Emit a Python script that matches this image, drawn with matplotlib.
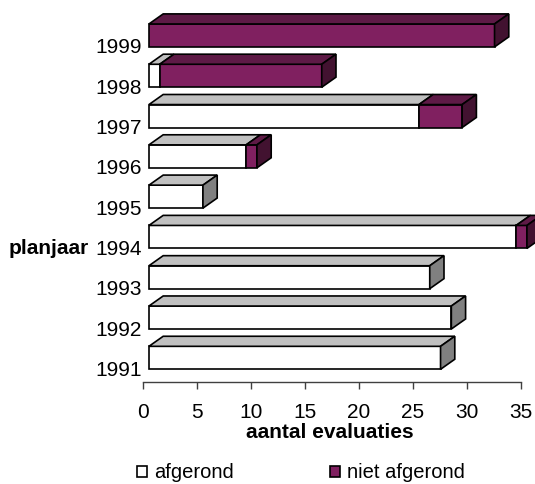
import matplotlib
matplotlib.use("Agg")
import matplotlib.pyplot as plt
from matplotlib.patches import Polygon, Rectangle

plt.rcParams['font.family'] = ['Liberation Sans', 'DejaVu Sans']

# data
jaren = ['1991', '1992', '1993', '1994', '1995', '1996', '1997', '1998', '1999']
afgerond = [27, 28, 26, 34, 5, 9, 25, 1, 0]
niet_afgerond = [0, 0, 0, 1, 0, 1, 4, 15, 32]
reeksen = ['afgerond', 'niet afgerond']

# kleuren: voorkant, bovenkant, zijkant
kleur_wit = ('#FFFFFF', '#C0C0C0', '#808080')
kleur_paars = ('#802060', '#5E1A46', '#421230')

W, H = 535, 484
fig = plt.figure(figsize=(W / 100, H / 100), dpi=100)
ax = fig.add_axes([143 / W, (H - 382) / H, 378 / W, 382 / H])

x0 = 0.55      # verschuiving voorvlak t.o.v. as
h = 0.57       # hoogte balk
dx, dy = 1.32, 0.25  # diepte

for i in range(len(jaren)):
    segs = [(0, afgerond[i], kleur_wit), (afgerond[i], afgerond[i] + niet_afgerond[i], kleur_paars)]
    segs = [s for s in segs if s[1] > s[0]]
    for k, (l, r, kl) in enumerate(segs):
        L, R = l + x0, r + x0
        ax.barh(i, r - l, left=L, height=h, color=kl[0], edgecolor='black',
                linewidth=1.2, clip_on=False, zorder=3)
        top = Polygon([(L, i + h / 2), (L + dx, i + h / 2 + dy), (R + dx, i + h / 2 + dy), (R, i + h / 2)],
                      closed=True, facecolor=kl[1], edgecolor='black', linewidth=1.2, clip_on=False, zorder=3)
        ax.add_patch(top)
        if k == len(segs) - 1:
            side = Polygon([(R, i - h / 2), (R + dx, i - h / 2 + dy), (R + dx, i + h / 2 + dy), (R, i + h / 2)],
                           closed=True, facecolor=kl[2], edgecolor='black', linewidth=1.2, clip_on=False, zorder=3)
            ax.add_patch(side)

ax.set_xlim(0, 35)
ax.set_ylim(-0.6, 8.88)
ax.set_xticks(range(0, 36, 5))
ax.set_yticks([i - 0.26 for i in range(len(jaren))])
ax.set_yticklabels(jaren, fontsize=15)
ax.tick_params(axis='y', length=0, pad=1)
ax.tick_params(axis='x', length=5, width=1, direction='out', pad=10, labelsize=15, color='#404040')
for s in ['top', 'right', 'left']:
    ax.spines[s].set_visible(False)
ax.spines['bottom'].set_color('#404040')
ax.spines['bottom'].set_linewidth(1)
ax.patch.set_alpha(0)

fig.text(330 / W, 1 - 433 / H, 'aantal evaluaties', fontsize=15, fontweight='bold',
         ha='center', va='center')
fig.text(9 / W, 1 - 248 / H, 'planjaar', fontsize=15, fontweight='bold', ha='left', va='center')

# legenda
for x, naam, kl in [(137, reeksen[0], kleur_wit), (330, reeksen[1], kleur_paars)]:
    fig.patches.append(Rectangle((x / W, 1 - 477 / H), 10 / W, 11 / H, transform=fig.transFigure,
                                 facecolor=kl[0], edgecolor='black', linewidth=1.2))
    fig.text((x + 17) / W, 1 - 472 / H, naam, fontsize=14.5, ha='left', va='center')

fig.savefig('out.png', dpi=100)
